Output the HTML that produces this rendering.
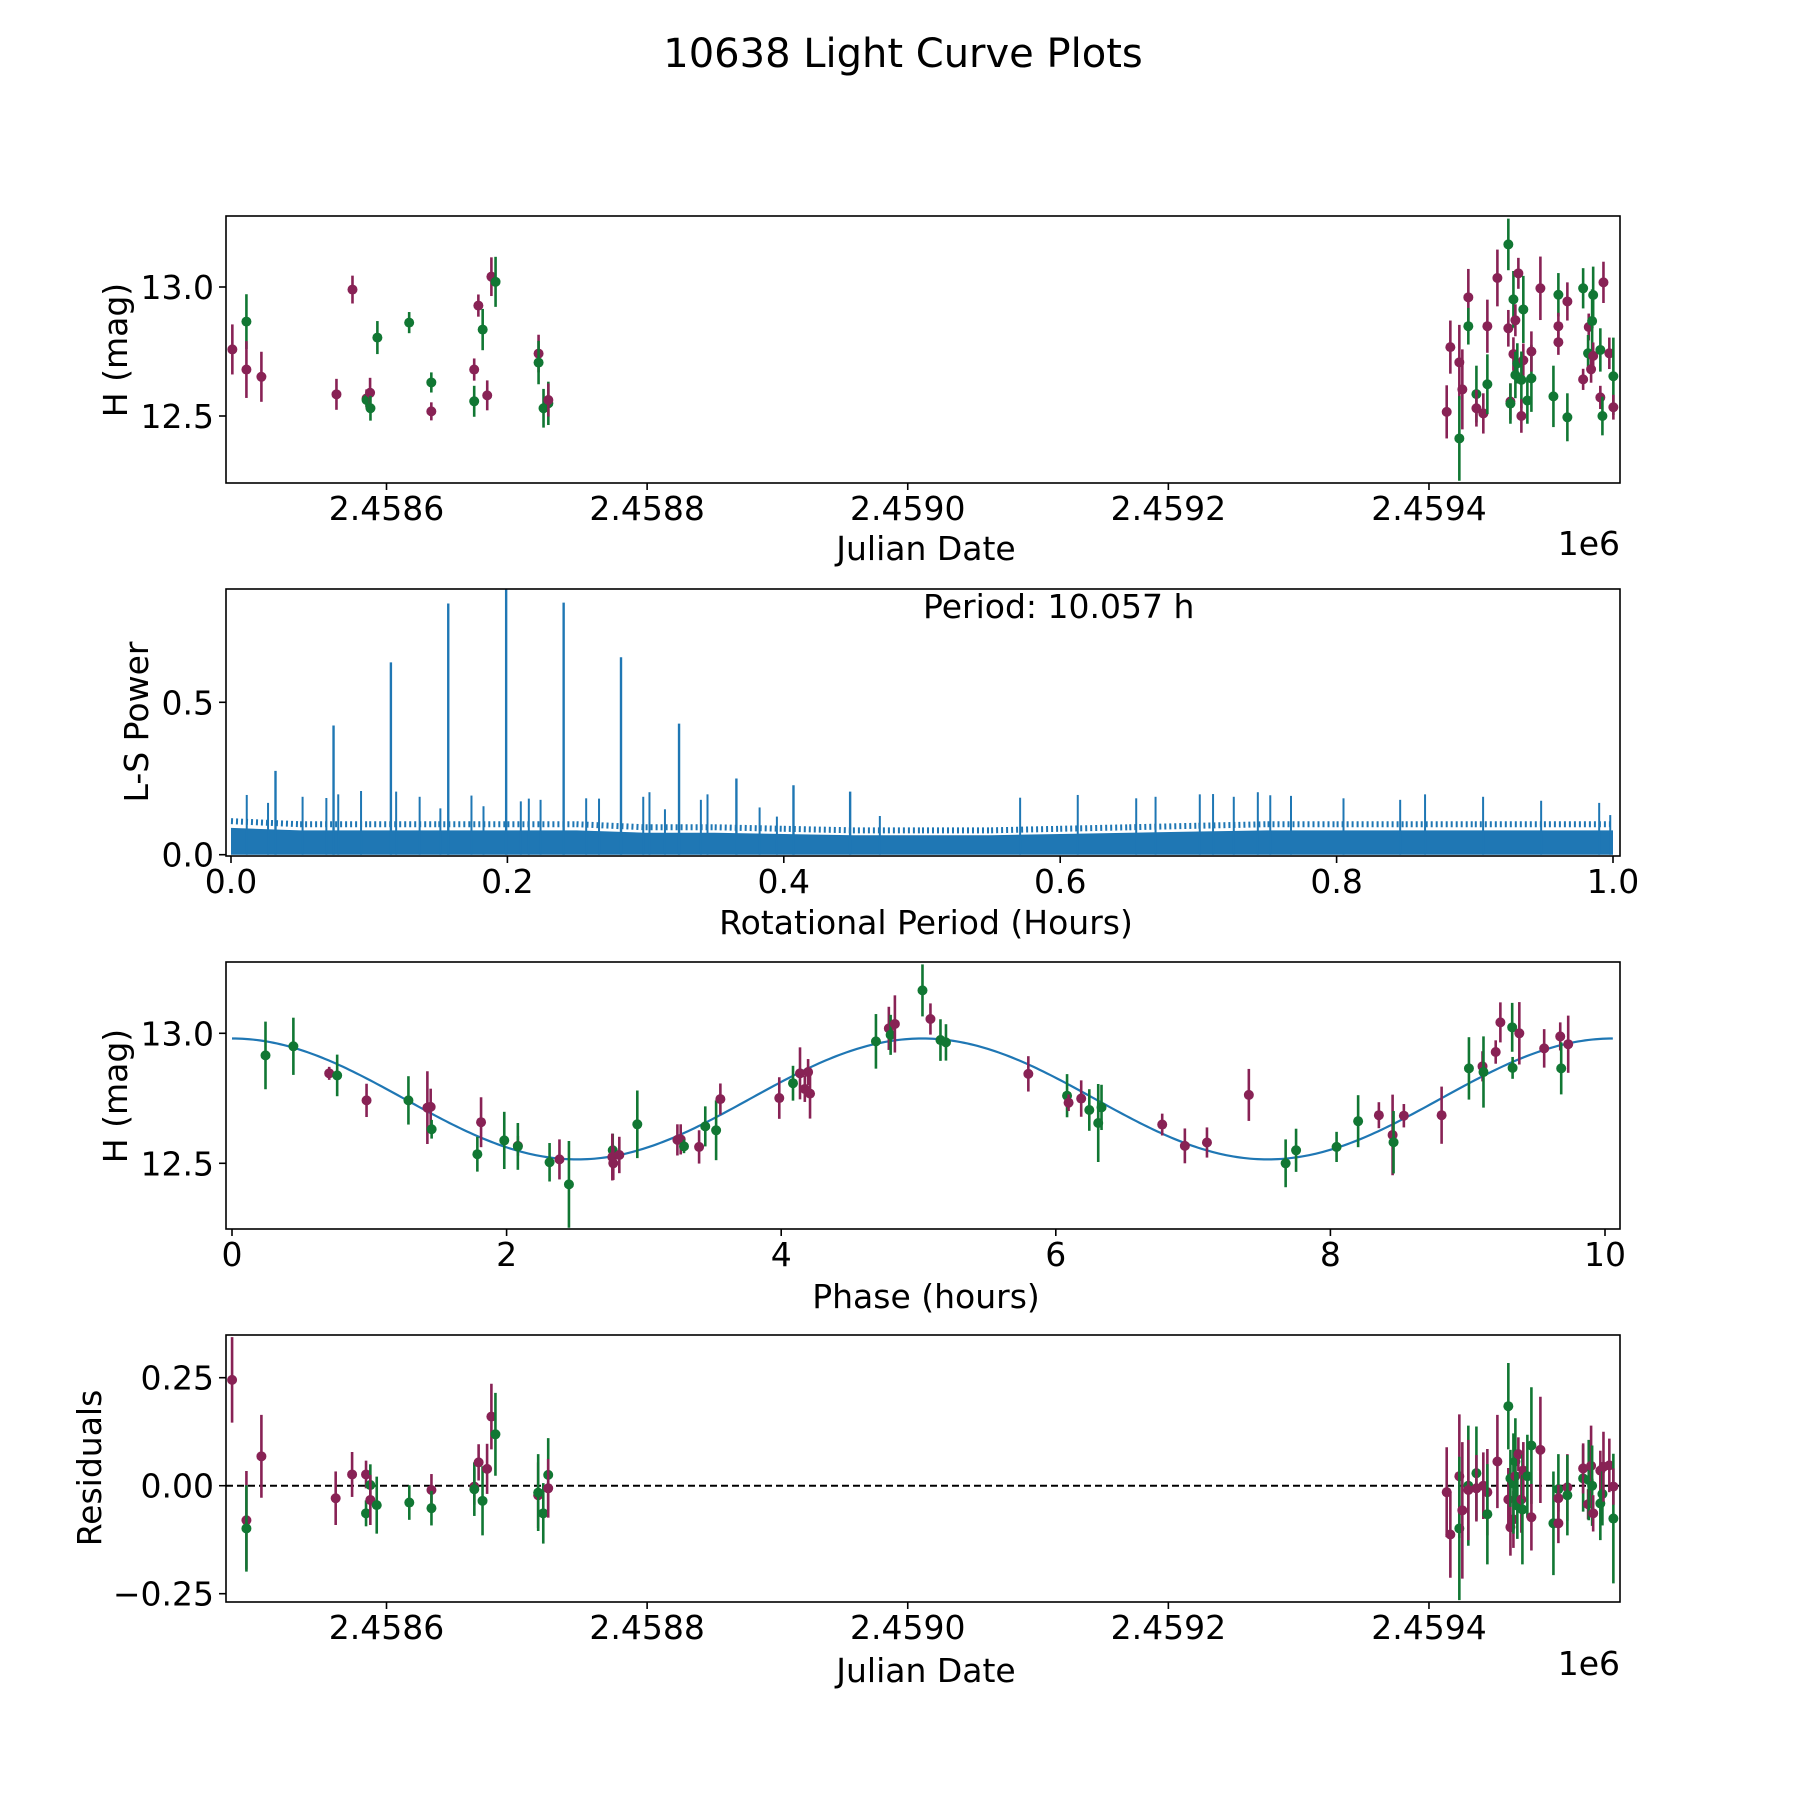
<!DOCTYPE html>
<html><head><meta charset="utf-8"><title>10638 Light Curve Plots</title>
<style>
html,body{margin:0;padding:0;background:#fff;}
svg{display:block;font-family:"DejaVu Sans","Liberation Sans",sans-serif;}
</style></head>
<body>
<svg id="fig" xmlns="http://www.w3.org/2000/svg" width="1800" height="1800" viewBox="0 0 1800 1800">
<rect width="1800" height="1800" fill="#fff"/>
<text x="903" y="67" font-size="40" text-anchor="middle">10638 Light Curve Plots</text>
</svg>
<script>
// ---------- Panel 1: raw light curve (days offset from JD 2458600) ----------
const rawDay = [-118.3,-107.5,-107.5,-96,-38.4,-26.1,-15.3,-15.3,-12.6,-12.3,-7,17.4,34.4,34.4,67.3,67.3,70.5,73.8,77.3,80.5,83.7,116.7,116.7,120.5,124.2,124.2,
813.6,816.4,823.3,823.3,825.6,830.2,830.2,836.4,836.4,841.7,844.8,844.8,852.5,860.9,860.9,862.5,862.5,864.8,864.8,866.3,866.3,868.6,867.8,872.4,872.4,870.9,870.9,875.5,878.6,878.6,885.5,895.5,899.3,899.3,899.3,906.2,906.2,918.3,918.3,922.6,922.1,924.4,925.2,926,926,931.5,931.5,933.1,933.9,938.4,941.5,941.5];
const rawMag = [12.758,12.866,12.68,12.652,12.584,12.99,12.568,12.562,12.59,12.53,12.804,12.862,12.63,12.518,12.68,12.557,12.928,12.835,12.58,13.04,13.02,12.742,12.707,12.53,12.549,12.562,
12.516,12.767,12.708,12.413,12.603,12.96,12.848,12.585,12.53,12.51,12.848,12.623,13.035,13.165,12.84,12.556,12.548,12.952,12.74,12.871,12.659,13.053,12.704,12.716,12.913,12.64,12.5,12.56,12.646,12.75,12.995,12.576,12.97,12.848,12.786,12.944,12.495,12.995,12.642,12.845,12.743,12.681,12.868,12.969,12.733,12.756,12.572,12.5,13.018,12.743,12.654,12.534];
const rawErr = [.097,.106,.11,.097,.06,.054,.035,.026,.058,.048,.064,.041,.039,.035,.043,.06,.043,.08,.058,.075,.097,.073,.084,.075,.084,.064,
.103,.103,.145,.164,.155,.11,.071,.11,.071,.078,.103,.116,.11,.1,.071,.071,.078,.11,.065,.062,.09,.06,.078,.065,.13,.11,.065,.09,.13,.078,.123,.119,.084,.052,.049,.074,.093,.078,.041,.052,.071,.052,.123,.11,.052,.084,.045,.075,.08,.061,.15,.048];
const rawBand = ["M","G","M","M","M","M","M","G","M","G","G","G","G","M","M","G","M","G","M","M","G","M","G","G","G","M",
"M","M","M","G","M","M","G","G","M","M","M","G","M","G","M","M","G","G","M","M","G","M","G","M","G","G","M","G","G","M","M","G","G","M","M","M","G","G","M","M","G","M","G","G","M","G","M","G","M","M","G","M"];
const jdTicks = [0,200,400,600,800];
const jdTickLabels = ["2.4586","2.4588","2.4590","2.4592","2.4594"];
const magTicks = [12.5,13.0];
const magTickLabels = ["12.5","13.0"];

// ---------- Panel 2: Lomb-Scargle periodogram ----------
const lsBandX = [0,.05,.1,.15,.2,.25,.3,.35,.4,.45,.5,.55,.6,.65,.7,.75,.8,.85,.9,.95,1.0];
const lsBandTop = [.11,.1,.1,.1,.1,.1,.09,.09,.085,.08,.08,.08,.085,.09,.095,.1,.1,.1,.1,.1,.1];
const lsPeakX = [.0322,.0742,.1157,.1572,.1991,.2407,.2822,.3242,.3657,.407,.448];
const lsPeakH = [.275,.424,.631,.824,.9,.827,.648,.43,.25,.228,.207];
const lsSpikeX = [.0114,.0268,.0518,.069,.0776,.0941,.1195,.1365,.1515,.174,.1827,.2097,.2155,.224,.257,.2663,.2983,.3028,.314,.34,.3448,.3825,.395,.4695,.571,.6127,.655,.669,.701,.7106,.7256,.743,.752,.767,.805,.846,.864,.906,.948,.99,.998];
const lsSpikeH = [.196,.17,.19,.186,.198,.209,.207,.19,.152,.194,.159,.175,.184,.18,.185,.184,.19,.205,.149,.18,.198,.155,.125,.127,.187,.196,.185,.19,.198,.199,.19,.205,.195,.193,.185,.18,.198,.19,.177,.17,.13];
const lsTicksX = [0,.2,.4,.6,.8,1.0];
const lsTickLabelsX = ["0.0","0.2","0.4","0.6","0.8","1.0"];
const lsTicksY = [0,.5];
const lsTickLabelsY = ["0.0","0.5"];

// ---------- Panel 3: phased light curve ----------
const phaseVal = [.244,.447,.708,.766,.98,1.285,1.423,1.447,1.454,1.814,1.787,1.983,2.082,2.082,2.313,2.385,2.454,2.773,2.77,2.777,2.821,2.952,3.244,3.268,3.292,3.402,3.447,3.526,3.557,3.986,4.086,4.137,4.172,4.196,4.21,4.69,4.784,4.797,4.828,
5.029,5.087,5.16,5.2,5.8,6.082,6.093,6.185,6.244,6.309,6.333,6.775,6.94,7.101,7.406,7.674,7.75,8.045,8.202,8.353,8.453,8.46,8.535,8.81,9.009,9.108,9.115,9.204,9.238,9.324,9.327,9.376,9.557,9.674,9.681,9.732];
const phaseMag = [12.915,12.95,12.846,12.838,12.742,12.742,12.714,12.717,12.631,12.658,12.535,12.588,12.567,12.565,12.504,12.515,12.419,12.55,12.524,12.5,12.532,12.65,12.59,12.592,12.565,12.563,12.642,12.627,12.747,12.751,12.808,12.846,12.786,12.851,12.768,12.969,13.019,12.994,13.036,
13.165,13.055,12.974,12.965,12.844,12.76,12.733,12.749,12.705,12.655,12.715,12.649,12.567,12.58,12.763,12.5,12.55,12.563,12.662,12.685,12.609,12.581,12.683,12.685,12.865,12.873,12.851,12.928,13.042,13.023,12.867,13.0,12.942,12.988,12.865,12.958];
const phaseErr = [.13,.11,.025,.08,.064,.093,.14,.07,.036,.096,.067,.11,.038,.09,.074,.077,.167,.064,.09,.064,.07,.13,.06,.058,.026,.064,.077,.115,.06,.08,.067,.1,.05,.05,.096,.105,.083,.077,.11,
.1,.06,.08,.07,.068,.083,.032,.07,.08,.15,.087,.042,.067,.058,.1,.092,.083,.058,.1,.05,.155,.12,.045,.11,.12,.058,.137,.045,.077,.094,.042,.12,.074,.054,.1,.11];
const phaseBand = ["G","G","M","G","M","G","M","M","G","M","G","G","M","G","G","M","G","G","M","M","M","G","M","M","G","M","G","G","M","M","G","M","M","M","M","G","M","G","M",
"G","M","G","G","M","G","M","M","G","G","G","M","M","M","M","G","G","G","G","M","M","G","M","M","G","M","G","M","M","G","G","M","M","M","G","M"];
const modelMean = [12.7475];
const modelAmp = [0.2325];
const modelPeriod = [10.057];
const phaseTicks = [0,2,4,6,8,10];
const phaseTickLabels = ["0","2","4","6","8","10"];

// ---------- Panel 4: residuals ----------
const resDay = [-118.5,-107.5,-107.5,-96,-39,-26.4,-15.7,-15.7,-12.4,-12.4,-7.5,17.5,34.5,34.5,67.4,67.4,70.7,73.7,77.2,80.5,83.6,116.4,116.4,120.3,124.1,124.1,
813.6,816.4,823.3,823.3,825.6,830.2,830.2,836.4,836.4,841.7,844.8,844.8,852.5,860.9,860.9,862.5,862.5,864.8,864.8,866.3,866.3,868.6,867.8,870.9,871.7,872.4,875.5,878.6,878.6,885.5,895.5,899.3,899.3,899.3,906.2,906.2,918.3,918.3,922.1,922.6,924.4,925.2,926,931.5,931.5,933.1,933.9,938.4,941.5,941.5];
const resVal = [.245,-.08,-.099,.068,-.029,.026,.026,-.064,.0015,-.033,-.045,-.039,-.01,-.052,-.002,-.008,.054,-.035,.039,.16,.119,-.022,-.016,-.064,.025,-.006,
-.015,-.113,.022,-.099,-.057,0,-.01,.029,-.006,0,-.015,-.066,.056,.184,-.032,-.096,.017,-.078,.005,.022,.056,.073,-.046,-.032,-.055,.035,.022,.093,-.073,.083,-.087,-.008,-.029,-.087,-.004,-.022,.017,.04,-.043,.013,.046,0,-.064,-.041,.035,-.019,.044,.047,-.076,-.002];
const resErr = [.099,.114,.1,.096,.062,.052,.032,.03,.048,.058,.066,.04,.037,.04,.042,.062,.042,.08,.058,.076,.096,.076,.089,.07,.085,.068,
.104,.1,.143,.166,.158,.139,.116,.108,.077,.077,.1,.116,.108,.1,.073,.066,.066,.066,.116,.054,.1,.039,.077,.077,.127,.066,.096,.135,.077,.123,.12,.081,.031,.046,.077,.093,.077,.058,.035,.093,.093,.093,.042,.085,.046,.073,.081,.062,.15,.042];
const resBand = ["M","M","G","M","M","M","M","G","G","M","G","G","M","G","M","G","M","G","M","M","G","M","G","G","G","M",
"M","M","M","G","M","G","M","G","M","M","M","G","M","G","M","M","G","M","G","M","G","M","G","M","G","M","G","G","M","M","G","G","M","M","M","G","G","M","M","G","M","G","M","G","M","G","M","M","G","M"];
const resTicks = [-0.25,0,0.25];
const resTickLabels = ["\u22120.25","0.00","0.25"];

const NS = "http://www.w3.org/2000/svg";
const svg = document.getElementById("fig");
const COLORS = {M:"#882255", G:"#117733"};
const FS = 33;
function mk(tag, attrs, parent){
  const e = document.createElementNS(NS, tag);
  for (const k in attrs) e.setAttribute(k, attrs[k]);
  (parent||svg).appendChild(e);
  return e;
}
function lin(d0,d1,p0,p1){ return v => p0 + (v-d0)*(p1-p0)/(d1-d0); }

const L = 226, R = 1620;
const panels = [{top:216,bot:483},{top:589,bot:856},{top:962,bot:1229},{top:1335,bot:1602}];

const xJD = lin(0, 800, 386.5, 386.5 + 800*1.3031);
const y1 = lin(12.5, 13.0, 416, 287);
const xLS = lin(0, 1, 231, 1613);
const y2 = lin(0, 0.5, 854.7, 702.3);
const xPh = lin(0, 10, 232, 1605);
const y3 = lin(12.5, 13.0, 1163.3, 1033.3);
const y4 = lin(0, 0.25, 1485.7, 1377.7);

const defs = mk("defs", {});
panels.forEach((p,i)=>{ const cp=document.createElementNS(NS,"clipPath"); cp.setAttribute("id","clip"+i); const r=document.createElementNS(NS,"rect"); r.setAttribute("x",L); r.setAttribute("y",p.top); r.setAttribute("width",R-L); r.setAttribute("height",p.bot-p.top); cp.appendChild(r); defs.appendChild(cp); });

function frame(p, name){
  const r = mk("rect", {x:L, y:p.top, width:R-L, height:p.bot-p.top, fill:"none", stroke:"#000", "stroke-width":1.6});
  
  
}
function xTicks(p, vals, labels, sx, name){
  const g = mk("g", {});
  
  
  vals.forEach((v,i)=>{
    const x = sx(v);
    mk("line", {x1:x, x2:x, y1:p.bot, y2:p.bot+7, stroke:"#000", "stroke-width":1.6}, g);
    const t = mk("text", {x:x, y:p.bot+37, "font-size":FS, "text-anchor":"middle"}, g);
    t.textContent = labels[i];
  });
}
function yTicks(p, vals, labels, sy, name){
  const g = mk("g", {});
  
  
  vals.forEach((v,i)=>{
    const y = sy(v);
    mk("line", {x1:L-7, x2:L, y1:y, y2:y, stroke:"#000", "stroke-width":1.6}, g);
    const t = mk("text", {x:L-12, y:y+12, "font-size":FS, "text-anchor":"end"}, g);
    t.textContent = labels[i];
  });
}
function label(txt, x, y, rot, name, anchor){
  const t = mk("text", {x:x, y:y, "font-size":FS, "text-anchor":anchor||"middle"});
  if (rot) t.setAttribute("transform", "rotate(-90 "+x+" "+y+")");
  t.textContent = txt;
  
  
}
function errPoints(xs, ys, es, bands, sx, sy, clip, name){
  const g = mk("g", {"clip-path":"url(#"+clip+")"});
  
  
  xs.forEach((xv,i)=>{
    const x = sx(xv), c = COLORS[bands[i]];
    const ln = mk("line", {x1:x, x2:x, y1:sy(ys[i]-es[i]), y2:sy(ys[i]+es[i]), stroke:c, "stroke-width":2.6}, g);
    
    
    const ci = mk("circle", {cx:x, cy:sy(ys[i]), r:5, fill:c}, g);
    
    
  });
}

// ---- Panel 1
errPoints(rawDay, rawMag, rawErr, rawBand, xJD, y1, "clip0", "raw-lightcurve-points");
frame(panels[0], "lightcurve-axes");
xTicks(panels[0], jdTicks, jdTickLabels, xJD, "lightcurve-x-ticks");
yTicks(panels[0], magTicks, magTickLabels, y1, "lightcurve-y-ticks");
label("Julian Date", 926, 560, false, "lightcurve-x-title");
label("1e6", 1620, 555, false, "lightcurve-x-offset", "end");
label("H (mag)", 127, 350, true, "lightcurve-y-title");

// ---- Panel 2
(function(){
  const g = mk("g", {"clip-path":"url(#clip1)"});
  
  
  let d = "M"+xLS(lsBandX[0])+","+y2(0);
  lsBandX.forEach((x,i)=>{ d += " L"+xLS(x)+","+y2(lsBandTop[i]*0.8); });
  d += " L"+xLS(1)+","+y2(0)+" Z";
  const band = mk("path", {d:d, fill:"#1f77b4"}, g);
  
  
  lsBandX.forEach((x,i)=>{
    if (i===lsBandX.length-1) return;
    const ln = mk("line", {x1:xLS(x), x2:xLS(lsBandX[i+1]), y1:y2(lsBandTop[i]), y2:y2(lsBandTop[i+1]), stroke:"#1f77b4", "stroke-width":6, "stroke-dasharray":"2 3"}, g);
    
    
  });
  lsSpikeX.forEach((x,i)=>{
    const ln = mk("line", {x1:xLS(x), x2:xLS(x), y1:y2(0), y2:y2(lsSpikeH[i]), stroke:"#1f77b4", "stroke-width":2}, g);
    
    
  });
  lsPeakX.forEach((x,i)=>{
    const ln = mk("line", {x1:xLS(x), x2:xLS(x), y1:y2(0), y2:y2(lsPeakH[i]), stroke:"#1f77b4", "stroke-width":2.4}, g);
    
    
  });
})();
frame(panels[1], "periodogram-axes");
xTicks(panels[1], lsTicksX, lsTickLabelsX, xLS, "periodogram-x-ticks");
yTicks(panels[1], lsTicksY, lsTickLabelsY, y2, "periodogram-y-ticks");
label("Rotational Period (Hours)", 926, 934, false, "periodogram-x-title");
label("L-S Power", 148, 722, true, "periodogram-y-title");
label("Period: "+modelPeriod[0].toFixed(3)+" h", 923, 618, false, "period-annotation", "start");

// ---- Panel 3
(function(){
  let d = "";
  for (let k=0;k<=400;k++){
    const ph = modelPeriod[0]*k/400;
    const m = modelMean[0] + modelAmp[0]*Math.cos(4*Math.PI*ph/modelPeriod[0]);
    d += (k?" L":"M")+xPh(ph).toFixed(2)+","+y3(m).toFixed(2);
  }
  const p = mk("path", {d:d, fill:"none", stroke:"#1f77b4", "stroke-width":2.2, "clip-path":"url(#clip2)"});
  
  
})();
errPoints(phaseVal, phaseMag, phaseErr, phaseBand, xPh, y3, "clip2", "phased-points");
frame(panels[2], "phase-axes");
xTicks(panels[2], phaseTicks, phaseTickLabels, xPh, "phase-x-ticks");
yTicks(panels[2], magTicks, magTickLabels, y3, "phase-y-ticks");
label("Phase (hours)", 926, 1308, false, "phase-x-title");
label("H (mag)", 127, 1096, true, "phase-y-title");

// ---- Panel 4
(function(){
  const ln = mk("line", {x1:L, x2:R, y1:y4(0), y2:y4(0), stroke:"#000", "stroke-width":2, "stroke-dasharray":"7 4"});
  
  
})();
errPoints(resDay, resVal, resErr, resBand, xJD, y4, "clip3", "residual-points");
frame(panels[3], "residual-axes");
xTicks(panels[3], jdTicks, jdTickLabels, xJD, "residual-x-ticks");
yTicks(panels[3], resTicks, resTickLabels, y4, "residual-y-ticks");
label("Julian Date", 926, 1682, false, "residual-x-title");
label("1e6", 1620, 1675, false, "residual-x-offset", "end");
label("Residuals", 101, 1468, true, "residual-y-title");
</script>
</body></html>
